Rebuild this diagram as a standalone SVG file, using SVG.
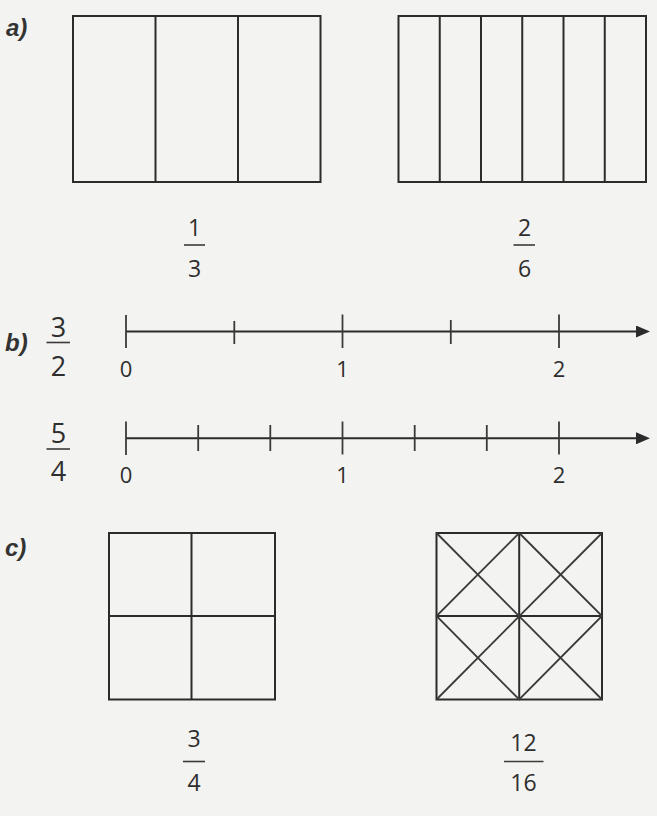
<svg xmlns="http://www.w3.org/2000/svg" width="657" height="816" viewBox="0 0 657 816">
<defs>
<style>
.ln{stroke:#2b2b2b;stroke-width:2;fill:none;stroke-linecap:butt}
.tk{stroke:#3a3a3a;stroke-width:1.8;fill:none}
.fl{stroke:#3a3a3a;stroke-width:1.6}
.num{font-family:"Open Sans","Liberation Sans",sans-serif;fill:#2e2e2e;text-anchor:middle}
.lab{font-family:"Liberation Sans",sans-serif;font-weight:bold;font-style:italic;fill:#333;font-size:24px}
</style>
<marker id="arr" viewBox="0 0 14 12" refX="1" refY="6" markerWidth="14" markerHeight="12" markerUnits="userSpaceOnUse" orient="auto">
<path d="M0,0 L14,6 L0,12 Z" fill="#2b2b2b"/>
</marker>
</defs>
<rect x="0" y="0" width="657" height="816" fill="#f3f3f1"/>

<g id="label-a"><text class="lab" x="6" y="36">a)</text></g>
<g id="label-b"><text class="lab" x="5" y="351">b)</text></g>
<g id="label-c"><text class="lab" x="5" y="556">c)</text></g>

<g id="rect-thirds">
<rect class="ln" x="73" y="16" width="247.5" height="166"/>
<line class="ln" x1="155.5" y1="16" x2="155.5" y2="182"/>
<line class="ln" x1="238" y1="16" x2="238" y2="182"/>
</g>
<g id="frac-1-3">
<text class="num" x="194.5" y="236" font-size="23">1</text>
<line class="fl" x1="184" y1="245" x2="205" y2="245"/>
<text class="num" x="194.5" y="277" font-size="23">3</text>
</g>

<g id="rect-sixths">
<rect class="ln" x="398.5" y="16" width="247.5" height="166"/>
<line class="ln" x1="439.75" y1="16" x2="439.75" y2="182"/>
<line class="ln" x1="481" y1="16" x2="481" y2="182"/>
<line class="ln" x1="522.25" y1="16" x2="522.25" y2="182"/>
<line class="ln" x1="563.5" y1="16" x2="563.5" y2="182"/>
<line class="ln" x1="604.75" y1="16" x2="604.75" y2="182"/>
</g>
<g id="frac-2-6">
<text class="num" x="524.5" y="236" font-size="23">2</text>
<line class="fl" x1="513.5" y1="245" x2="535" y2="245"/>
<text class="num" x="524.5" y="277" font-size="23">6</text>
</g>

<g id="frac-3-2">
<text class="num" x="58.5" y="337" font-size="27">3</text>
<line class="fl" x1="46.5" y1="342.5" x2="70" y2="342.5"/>
<text class="num" x="58.5" y="375.5" font-size="27">2</text>
</g>
<g id="numberline-halves">
<line class="ln" x1="126" y1="331.5" x2="637" y2="331.5" marker-end="url(#arr)"/>
<line class="tk" x1="126" y1="315" x2="126" y2="348"/>
<line class="tk" x1="234.3" y1="321" x2="234.3" y2="344"/>
<line class="tk" x1="342.5" y1="314.5" x2="342.5" y2="348"/>
<line class="tk" x1="450.8" y1="320" x2="450.8" y2="344"/>
<line class="tk" x1="559" y1="314.5" x2="559" y2="348"/>
<text class="num" x="126" y="377" font-size="22">0</text>
<text class="num" x="342.5" y="377" font-size="22">1</text>
<text class="num" x="559" y="377" font-size="22">2</text>
</g>

<g id="frac-5-4">
<text class="num" x="58.5" y="443" font-size="27">5</text>
<line class="fl" x1="46.5" y1="449" x2="70" y2="449"/>
<text class="num" x="58.5" y="481" font-size="27">4</text>
</g>
<g id="numberline-thirds">
<line class="ln" x1="126" y1="438.3" x2="637" y2="438.3" marker-end="url(#arr)"/>
<line class="tk" x1="126" y1="421.5" x2="126" y2="455"/>
<line class="tk" x1="198.2" y1="425" x2="198.2" y2="451"/>
<line class="tk" x1="270.3" y1="425" x2="270.3" y2="451"/>
<line class="tk" x1="342.5" y1="421.5" x2="342.5" y2="454.5"/>
<line class="tk" x1="414.7" y1="425" x2="414.7" y2="451"/>
<line class="tk" x1="486.8" y1="425" x2="486.8" y2="451"/>
<line class="tk" x1="559" y1="421.5" x2="559" y2="454.5"/>
<text class="num" x="126" y="483" font-size="22">0</text>
<text class="num" x="342.5" y="483" font-size="22">1</text>
<text class="num" x="559" y="483" font-size="22">2</text>
</g>

<g id="square-quarters">
<rect class="ln" x="109" y="533" width="166" height="166.5"/>
<line class="ln" x1="191.5" y1="533" x2="191.5" y2="699.5"/>
<line class="ln" x1="109" y1="616" x2="275" y2="616"/>
</g>
<g id="frac-3-4">
<text class="num" x="194" y="747" font-size="23">3</text>
<line class="fl" x1="183" y1="761.5" x2="205" y2="761.5"/>
<text class="num" x="194" y="790.5" font-size="23">4</text>
</g>

<g id="square-sixteenths">
<rect class="ln" x="436.5" y="533" width="165.5" height="166.5"/>
<line class="ln" x1="519.2" y1="533" x2="519.2" y2="699.5"/>
<line class="ln" x1="436.5" y1="616" x2="602" y2="616"/>
<line class="tk" x1="436.5" y1="533" x2="602" y2="699.5"/>
<line class="tk" x1="602" y1="533" x2="436.5" y2="699.5"/>
<polygon class="tk" points="519.2,533 602,616 519.2,699.5 436.5,616"/>
</g>
<g id="frac-12-16">
<text class="num" x="523.5" y="750.5" font-size="23">12</text>
<line class="fl" x1="504" y1="761.5" x2="543.5" y2="761.5"/>
<text class="num" x="523.5" y="790.5" font-size="23">16</text>
</g>
</svg>
